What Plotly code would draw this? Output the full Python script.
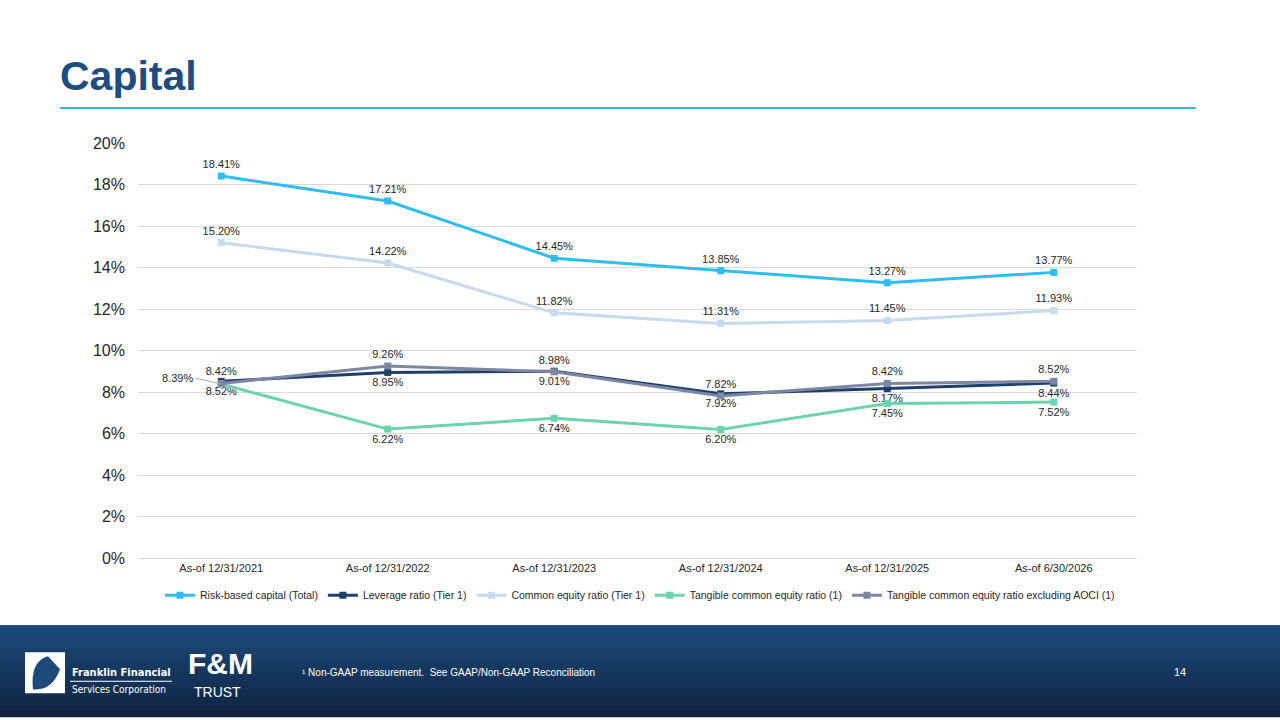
import plotly.graph_objects as go

# chart data
categories = ["As-of 12/31/2021", "As-of 12/31/2022", "As-of 12/31/2023",
              "As-of 12/31/2024", "As-of 12/31/2025", "As-of 6/30/2026"]
risk_based = [18.41, 17.21, 14.45, 13.85, 13.27, 13.77]
leverage = [8.52, 8.95, 9.01, 7.92, 8.17, 8.44]
common_equity = [15.20, 14.22, 11.82, 11.31, 11.45, 11.93]
tangible_ce = [8.39, 6.22, 6.74, 6.20, 7.45, 7.52]
tangible_ex_aoci = [8.42, 9.26, 8.98, 7.82, 8.42, 8.52]
y_ticks = [0, 2, 4, 6, 8, 10, 12, 14, 16, 18, 20]

W, H = 1280, 720
FONT = "Liberation Sans, Arial, sans-serif"

# the capture adds a few px above the page and squeezes it a bit; undo that
Y_OFF, Y_SCALE = 7, 0.976


def px(x):
    return x / W


def py(y):
    return 1 - ((y - Y_OFF) / Y_SCALE) / H


series = [
    ("Risk-based capital (Total)", risk_based, "#2FBCEE", "top center"),
    ("Leverage ratio (Tier 1)", leverage, "#1E3F6B", "bottom center"),
    ("Common equity ratio (Tier 1)", common_equity, "#C6DAEE", "top center"),
    ("Tangible common equity ratio (1)", tangible_ce, "#6DD3AA", "bottom center"),
    ("Tangible common equity ratio excluding AOCI (1)", tangible_ex_aoci, "#7D87A3", "top center"),
]

fig = go.Figure()
for name, vals, color, pos in series:
    labels = [f"{v:.2f}%" for v in vals]
    if name == "Tangible common equity ratio (1)":
        labels[0] = ""  # drawn with a leader line instead
    fig.add_trace(go.Scatter(
        x=categories, y=vals, name=name, mode="lines+markers+text",
        line=dict(color=color, width=3),
        marker=dict(symbol="square", size=7, color=color),
        text=labels, textposition=pos,
        textfont=dict(family=FONT, size=11, color="#262626"),
        cliponaxis=False,
    ))

shapes = []
# footer band: base colour then stepped gradient on top
top_c = (0x1C, 0x4B, 0x7B)
bot_c = (0x0F, 0x23, 0x40)
y0 = 624
shapes.append(dict(type="rect", xref="paper", yref="paper", x0=0, x1=1,
                   y0=0, y1=py(y0), line_width=0, fillcolor="#163864", layer="below"))
steps = 24
for i in range(steps):
    t = i / (steps - 1)
    c = tuple(int(a + (b - a) * t) for a, b in zip(top_c, bot_c))
    ya = y0 + (H - y0) * i / steps
    yb = y0 + (H - y0) * (i + 1) / steps + 2
    shapes.append(dict(type="rect", xref="paper", yref="paper",
                       x0=0, x1=1, y0=max(0, py(yb)), y1=py(ya), line_width=0,
                       fillcolor="rgb(%d,%d,%d)" % c, layer="below"))
# title rule
shapes.append(dict(type="line", xref="paper", yref="paper",
                   x0=px(60), x1=px(1196), y0=py(107), y1=py(107),
                   line=dict(color="#3DB3E3", width=2)))
# logo box
shapes.append(dict(type="rect", xref="paper", yref="paper",
                   x0=px(25), x1=px(65), y0=py(692), y1=py(651),
                   fillcolor="white", line_width=0))
shapes.append(dict(type="path", xref="paper", yref="paper",
                   path="M %f,%f Q %f,%f %f,%f L %f,%f Q %f,%f %f,%f Z" % (
                       px(33), py(688), px(30), py(660), px(48), py(655),
                       px(60), py(668), px(52), py(690), px(33), py(688)),
                   fillcolor="#1C4B7B", line_width=0))
shapes.append(dict(type="line", xref="paper", yref="paper",
                   x0=px(70), x1=px(172), y0=py(680), y1=py(680),
                   line=dict(color="white", width=1)))

annotations = [
    dict(text="<b>Capital</b>", x=px(58), y=py(75), xref="paper", yref="paper",
         xanchor="left", yanchor="middle", showarrow=False,
         font=dict(family=FONT, size=41, color="#1D4E7F")),
    dict(text=f"{tangible_ce[0]:.2f}%", x=categories[0], y=tangible_ce[0],
         xref="x", yref="y", ax=-26, ay=-6, showarrow=True, arrowhead=0,
         arrowcolor="#A6A6A6", arrowwidth=1, xanchor="right",
         font=dict(family=FONT, size=11, color="#262626")),
    dict(text="<b>Franklin Financial</b>", x=px(70), y=py(671), xref="paper", yref="paper",
         xanchor="left", yanchor="middle", showarrow=False,
         font=dict(family="DejaVu Sans Condensed, DejaVu Sans", size=11, color="white")),
    dict(text="Services Corporation", x=px(70), y=py(688), xref="paper", yref="paper",
         xanchor="left", yanchor="middle", showarrow=False,
         font=dict(family="DejaVu Sans Condensed, DejaVu Sans", size=10, color="white")),
    dict(text="<b>F&M</b>", x=px(220), y=py(681), xref="paper", yref="paper",
         xanchor="center", yanchor="bottom", showarrow=False,
         font=dict(family="Liberation Sans Narrow, Liberation Sans", size=30, color="white")),
    dict(text="TRUST", x=px(243), y=py(681), xref="paper", yref="paper",
         xanchor="right", yanchor="top", showarrow=False,
         font=dict(family="Liberation Sans Narrow, Liberation Sans", size=14, color="white")),
    dict(text="¹ Non-GAAP measurement.  See GAAP/Non-GAAP Reconciliation",
         x=px(300), y=py(671), xref="paper", yref="paper",
         xanchor="left", yanchor="middle", showarrow=False,
         font=dict(family=FONT, size=10, color="white")),
    dict(text="14", x=px(1180), y=py(671), xref="paper", yref="paper",
         xanchor="center", yanchor="middle", showarrow=False,
         font=dict(family=FONT, size=11, color="white")),
]

fig.update_layout(
    width=W, height=H,
    margin=dict(l=0, r=0, t=0, b=0),
    paper_bgcolor="white", plot_bgcolor="white",
    font=dict(family=FONT, color="#404040"),
    showlegend=True,
    legend=dict(orientation="h", x=0.5, xanchor="center", y=py(594), yanchor="middle",
                font=dict(family=FONT, size=10.5, color="#262626"),
                itemwidth=30, tracegroupgap=0),
    xaxis=dict(domain=[px(138), px(1137)], range=[-0.5, len(categories) - 0.5],
               tickfont=dict(family=FONT, size=11, color="#262626"),
               showgrid=False, showline=True, linecolor="#D9D9D9", ticks="",
               categoryorder="array", categoryarray=categories),
    yaxis=dict(domain=[py(557), py(142)], range=[0, 20], tickvals=y_ticks,
               ticktext=[f"{v}%" for v in y_ticks], showgrid=True, gridcolor="#D9D9D9",
               gridwidth=1, zeroline=False, ticks="", ticklabelstandoff=12,
               tickfont=dict(family=FONT, size=16, color="#262626")),
    shapes=shapes,
    annotations=annotations,
)

# pin the plot to the top-left corner; dark page background below it
pin = ("document.body.style.margin='0';"
       "document.body.style.background='transparent';"
       "document.documentElement.style.background="
       "'linear-gradient(to bottom,#ffffff 0%,#ffffff 50%,#0F2440 50%,#0F2440 100%)';"
       "document.documentElement.style.minHeight='100%';"
       "var gd=document.getElementById('{plot_id}');"
       "gd.style.position='fixed';gd.style.top='0';gd.style.left='0';")
fig.write_html("out.html", config={"displayModeBar": False}, post_script=pin)
